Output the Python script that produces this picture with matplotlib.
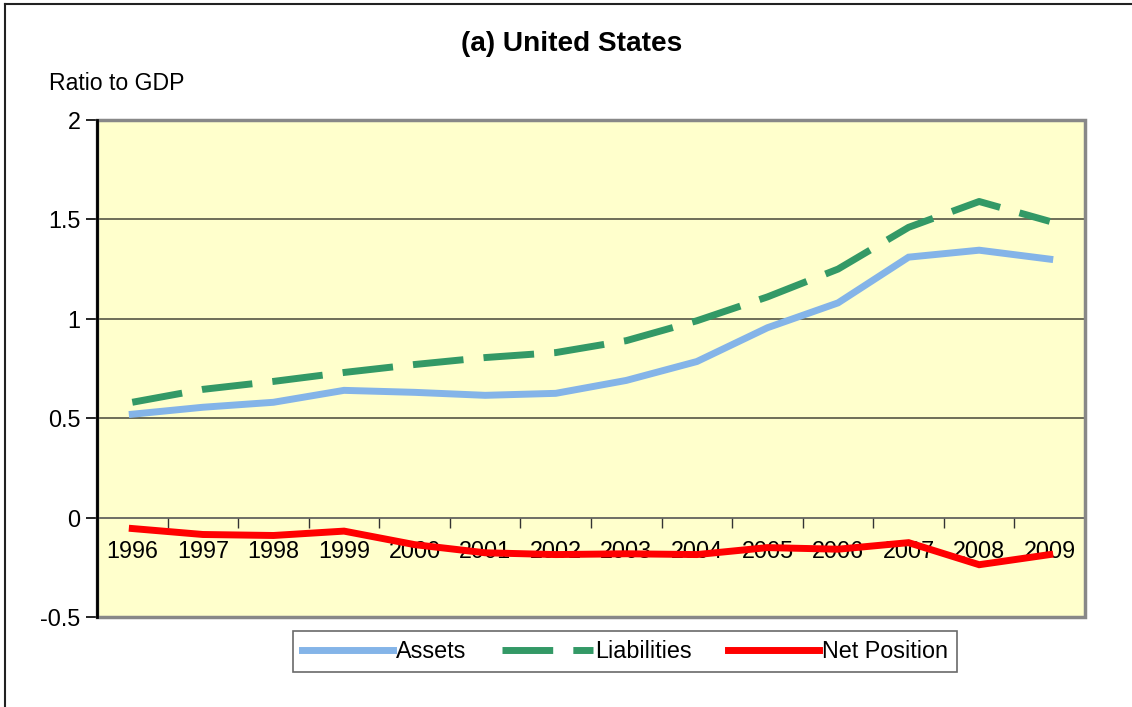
import matplotlib
matplotlib.use("Agg")
from matplotlib import pyplot as plt
from matplotlib.lines import Line2D
from matplotlib.patches import Rectangle

# data (ratio to GDP)
years = ['1996', '1997', '1998', '1999', '2000', '2001', '2002',
         '2003', '2004', '2005', '2006', '2007', '2008', '2009']
assets = [0.52, 0.555, 0.58, 0.64, 0.63, 0.615, 0.625,
          0.69, 0.785, 0.955, 1.08, 1.31, 1.345, 1.30]
liabilities = [0.58, 0.645, 0.685, 0.73, 0.77, 0.805, 0.83,
               0.89, 0.99, 1.11, 1.25, 1.46, 1.59, 1.49]
net_position = [-0.055, -0.085, -0.09, -0.068, -0.136, -0.177, -0.186,
                -0.182, -0.186, -0.151, -0.159, -0.126, -0.237, -0.186]

plt.rcParams['font.family'] = ['Liberation Sans', 'DejaVu Sans']

fig = plt.figure(figsize=(11.32, 7.07), dpi=100)
ax = fig.add_axes([0.0857, 0.1273, 0.8728, 0.703])
ax.set_facecolor('#FFFFCC')

x = list(range(len(years)))
lw = 5
dash = (0, (7.3, 2.9))
ax.plot(x, assets, color='#84B4E8', lw=lw, solid_joinstyle='miter', zorder=3)
ax.plot(x, liabilities, color='#339966', lw=lw, linestyle=dash,
        dash_capstyle='butt', zorder=3)
ax.plot(x, net_position, color='#FF0000', lw=lw, solid_joinstyle='miter', zorder=3)

ax.set_xlim(-0.5, len(years) - 0.5)
ax.set_ylim(-0.5, 2)
ax.set_yticks([-0.5, 0, 0.5, 1, 1.5, 2])
ax.set_yticklabels(['-0.5', '0', '0.5', '1', '1.5', '2'])
for v in [0.5, 1, 1.5]:
    ax.axhline(v, color='#555544', lw=1.2, zorder=1)

# category axis sits on zero line, ticks between categories
ax.spines['bottom'].set_position(('data', 0))
ax.spines['bottom'].set_color('#555555')
ax.spines['bottom'].set_linewidth(1.2)
ax.set_xticks([i + 0.5 for i in range(len(years))])
ax.set_xticklabels([])
ax.set_xticks(x, labels=years, minor=True)
ax.tick_params(axis='x', which='major', direction='out', length=7, width=1, color='#333333')
ax.tick_params(axis='x', which='minor', length=0, pad=16, labelsize=16.8)
ax.tick_params(axis='y', direction='out', length=8, width=1.2, pad=4, labelsize=16.8)

for s in ['top', 'right']:
    ax.spines[s].set_visible(False)
ax.spines['left'].set_color('black')
ax.spines['left'].set_linewidth(2)
ax.spines['left'].set_zorder(5)
ax.add_patch(Rectangle((0, 0), 1, 1, transform=ax.transAxes, fill=False,
                       edgecolor='#888888', lw=2.5, zorder=4, clip_on=False))

fig.text(0.505, 0.938, '(a) United States', ha='center', va='center',
         fontsize=20.2, fontweight='bold')
fig.text(0.043, 0.882, 'Ratio to GDP', ha='left', va='center', fontsize=16.6)

handles = [Line2D([], [], color='#84B4E8', lw=lw),
           Line2D([], [], color='#339966', lw=lw, linestyle=dash),
           Line2D([], [], color='#FF0000', lw=lw)]
leg = fig.legend(handles, ['Assets', 'Liabilities', 'Net Position'],
                 loc='center', bbox_to_anchor=(0.552, 0.0785), ncol=3,
                 fontsize=16.8, frameon=True, fancybox=False, handlelength=3.9,
                 handletextpad=0.1, columnspacing=1.55, borderpad=0.4,
                 borderaxespad=0)
leg.get_frame().set_edgecolor('#444444')
leg.get_frame().set_linewidth(1.2)

# outer chart border (left and top visible)
fig.add_artist(Line2D([5 / 1132, 5 / 1132], [0, 1 - 4 / 707],
                      transform=fig.transFigure, color='#222222', lw=1.5))
fig.add_artist(Line2D([5 / 1132, 1], [1 - 4 / 707, 1 - 4 / 707],
                      transform=fig.transFigure, color='#222222', lw=1.5))

fig.savefig('out.png', dpi=100)
